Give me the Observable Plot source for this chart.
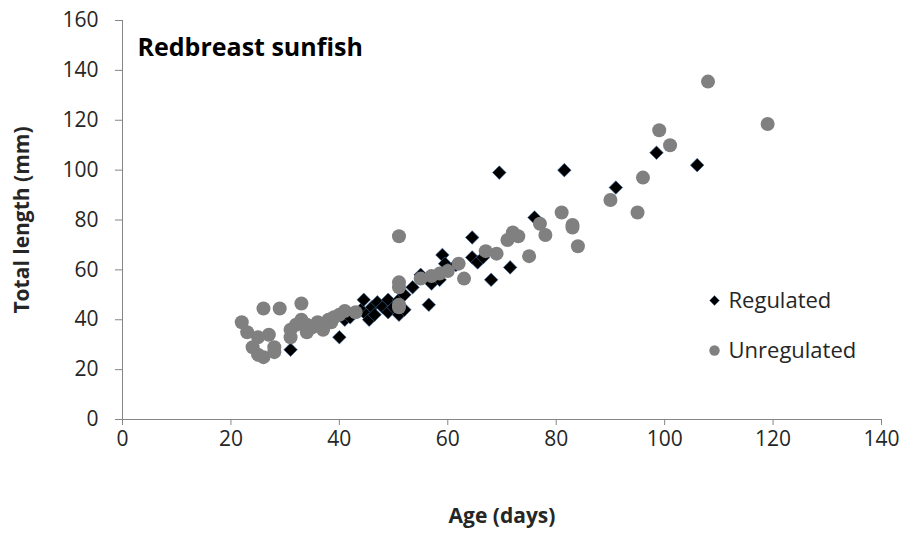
<!DOCTYPE html>
<html>
<head>
<meta charset="utf-8">
<script src="https://cdn.jsdelivr.net/npm/d3@7"></script>
<script src="https://cdn.jsdelivr.net/npm/@observablehq/plot@0.6"></script>
<style>
  html, body { margin: 0; padding: 0; background: #fff; }
  svg { display: block; }
</style>
</head>
<body>
<div id="chart"></div>
<script>
// Regulated (black diamonds)
const regAge = [31, 40, 41, 42, 44, 44.5, 45, 45.5, 46, 46.5, 47, 48, 49, 49, 50, 51, 51, 52, 52, 53.5,
  55, 56.5, 57, 58.5, 59, 59.5, 60, 61.5, 64.5, 64.5, 65.5, 66.5, 68, 71.5, 69.5, 76, 81.5, 91, 98.5, 106];
const regLen = [28, 33, 40, 41, 44, 48, 42, 40, 45, 42, 47, 45, 48, 43, 45, 42, 48, 44, 50, 53,
  58, 46, 54.5, 56, 66, 62.5, 60, 62, 73, 65, 63, 65, 56, 61, 99, 81, 100, 93, 107, 102];

// Unregulated (grey circles)
const unAge = [22, 23, 24, 25, 25, 26, 26, 27, 28, 28, 29, 31, 31, 32, 33, 33, 34, 34, 35, 36, 37, 38, 38.5, 39, 40, 41, 43,
  51, 51, 51, 51, 51, 55, 57, 58.5, 60, 62, 63, 67, 69, 71, 72, 73, 75, 77, 78, 81, 83, 83, 84, 90, 95, 96, 99, 101, 108, 119];
const unLen = [39, 35, 29, 33, 26, 25, 44.5, 34, 27, 29, 44.5, 33, 36, 38, 46.5, 40, 35, 38, 37, 39, 36, 40, 39, 41, 42, 43.5, 43,
  73.5, 55, 53, 46, 45, 56.5, 57.5, 58.5, 59.5, 62.5, 56.5, 67.5, 66.5, 72, 75, 73.5, 65.5, 78.5, 74, 83, 78, 77, 69.5, 88, 83, 97, 116, 110, 135.5, 118.5];

const xTicks = [0, 20, 40, 60, 80, 100, 120, 140];
const yTicks = [0, 20, 40, 60, 80, 100, 120, 140, 160];
const seriesNames = ["Regulated", "Unregulated"];

const regulated = regAge.map((a, i) => ({age: a, len: regLen[i]}));
const unregulated = unAge.map((a, i) => ({age: a, len: unLen[i]}));

const FONT = "'Open Sans', Lato, sans-serif";
const axisGrey = "#868686";
const textCol = "#262626";

const chart = Plot.plot({
  width: 905,
  height: 533,
  marginLeft: 122,
  marginRight: 24,
  marginTop: 20,
  marginBottom: 114,
  style: {fontFamily: FONT, background: "#fff"},
  x: {domain: [0, 140]},
  y: {domain: [0, 160]},
  marks: [
    Plot.ruleY([0], {stroke: axisGrey, strokeWidth: 1}),
    Plot.ruleX([0], {stroke: axisGrey, strokeWidth: 1}),
    Plot.axisX({ticks: xTicks, tickSize: 6, tickPadding: 6, stroke: axisGrey, fill: textCol,
      fontSize: 21, label: null, tickFormat: d => String(d)}),
    Plot.axisY({ticks: yTicks, tickSize: 7, tickPadding: 17, stroke: axisGrey, fill: textCol,
      fontSize: 21, label: null, tickFormat: d => String(d)}),
    Plot.dot(regulated, {x: "age", y: "len", symbol: "diamond2", r: 6.1, fill: "#000",
      stroke: "#3a6aa0", strokeWidth: 0.6}),
    Plot.dot(unregulated, {x: "age", y: "len", symbol: "circle", r: 7, fill: "#808080", stroke: "none"}),
    // Title
    Plot.text(["Redbreast sunfish"], {frameAnchor: "top-left", dx: 15, dy: 27, textAnchor: "start",
      lineAnchor: "middle", fontSize: 25, fontWeight: "bold", fill: "#000"}),
    // Axis titles
    Plot.text(["Age (days)"], {frameAnchor: "bottom", dy: 97, textAnchor: "middle", lineAnchor: "middle",
      fontSize: 21, fontWeight: "bold", fill: textCol}),
    Plot.text(["Total length (mm)"], {frameAnchor: "left", dx: -100, rotate: -90, textAnchor: "middle",
      lineAnchor: "middle", fontSize: 21, fontWeight: "bold", fill: textCol}),
    // Legend
    Plot.dot([seriesNames[0]], {frameAnchor: "top-left", dx: 592, dy: 280, symbol: "diamond2", r: 4.4,
      fill: "#000", stroke: "#3a6aa0", strokeWidth: 0.5}),
    Plot.dot([seriesNames[1]], {frameAnchor: "top-left", dx: 592, dy: 330, symbol: "circle", r: 5.2,
      fill: "#808080"}),
    Plot.text([seriesNames[0]], {frameAnchor: "top-left", dx: 606, dy: 280, text: d => d, textAnchor: "start",
      lineAnchor: "middle", fontSize: 22, fill: textCol}),
    Plot.text([seriesNames[1]], {frameAnchor: "top-left", dx: 606, dy: 330, text: d => d, textAnchor: "start",
      lineAnchor: "middle", fontSize: 22, fill: textCol})
  ]
});
document.getElementById("chart").appendChild(chart);
</script>
</body>
</html>
